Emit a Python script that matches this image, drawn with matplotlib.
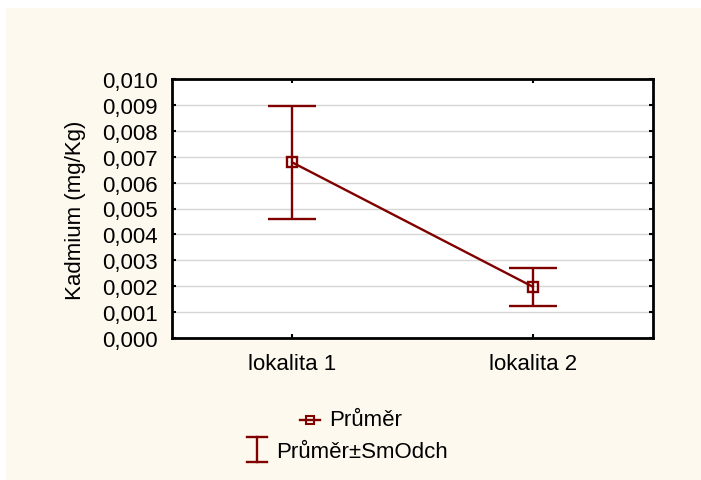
import matplotlib
matplotlib.use("Agg")
import matplotlib.pyplot as plt
from matplotlib.lines import Line2D
from matplotlib.patches import Rectangle
from matplotlib.ticker import FuncFormatter

categories = ["lokalita 1", "lokalita 2"]
means = [0.00678, 0.00198]
sds = [0.00218, 0.00073]
y_ticks = [i / 1000 for i in range(0, 11)]

W, H = 701, 481
DPI = 100
RED = "#800000"
CREAM = "#fdf9ef"
FS = 16
plt.rcParams["font.family"] = ["Liberation Sans", "DejaVu Sans"]

fig = plt.figure(figsize=(W / DPI, H / DPI), dpi=DPI, facecolor="white")
fig.add_artist(Rectangle((6 / W, 0), 1 - 6 / W, 1 - 9 / H, transform=fig.transFigure,
                         facecolor=CREAM, edgecolor="none", zorder=-10))

left, right, top, bottom = 172, 653, 80, 339
ax = fig.add_axes([left / W, 1 - bottom / H, (right - left) / W, (bottom - top) / H])
ax.set_facecolor("white")

x = list(range(1, len(categories) + 1))
ax.plot(x, means, color=RED, lw=1.7, marker="s", markersize=7,
        markerfacecolor="none", markeredgecolor=RED, markeredgewidth=1.7, zorder=4)
ax.errorbar(x, means, yerr=sds, fmt="none", ecolor=RED, elinewidth=1.7,
            capsize=17, capthick=1.7, zorder=3)

ax.set_xlim(0.5, len(categories) + 0.5)
ax.set_ylim(0, 0.010)
ax.set_yticks(y_ticks)
ax.yaxis.set_major_formatter(FuncFormatter(lambda v, p: f"{v:.3f}".replace(".", ",")))
ax.set_xticks(x)
ax.set_xticklabels(categories)
ax.grid(axis="y", color="#d6d6d6", lw=1.0)
ax.set_axisbelow(True)
ax.tick_params(direction="in", length=3, width=1.5, top=True, right=True,
               labelsize=FS, colors="black")
ax.tick_params(axis="y", pad=10)
ax.tick_params(axis="x", pad=11)
for s in ax.spines.values():
    s.set_linewidth(2)
    s.set_color("black")

fig.text(75 / W, 1 - 210 / H, "Kadmium (mg/Kg)", rotation=90, ha="center", va="center",
         fontsize=FS)


def px(xp, yp):
    return (xp / W, 1 - yp / H)


# legend (manual)
fig.add_artist(Line2D([300 / W, 320 / W], [1 - 421 / H, 1 - 421 / H],
                      transform=fig.transFigure, color=RED, lw=1.7))
fig.add_artist(Line2D([310 / W], [1 - 421 / H], transform=fig.transFigure, lw=0,
                      marker="s", markersize=6, markerfacecolor="none",
                      markeredgecolor=RED, markeredgewidth=1.5))
fig.text(*px(329, 421), "Průměr", ha="left", va="center", fontsize=FS)

for (xa, ya, xb, yb) in [(257, 438, 257, 463), (247, 438, 267, 438), (247, 463, 267, 463)]:
    fig.add_artist(Line2D([xa / W, xb / W], [1 - ya / H, 1 - yb / H],
                          transform=fig.transFigure, color=RED, lw=1.7))
fig.text(*px(276, 452), "Průměr±SmOdch", ha="left", va="center", fontsize=FS)

fig.savefig("out.png", dpi=DPI, facecolor="white")
